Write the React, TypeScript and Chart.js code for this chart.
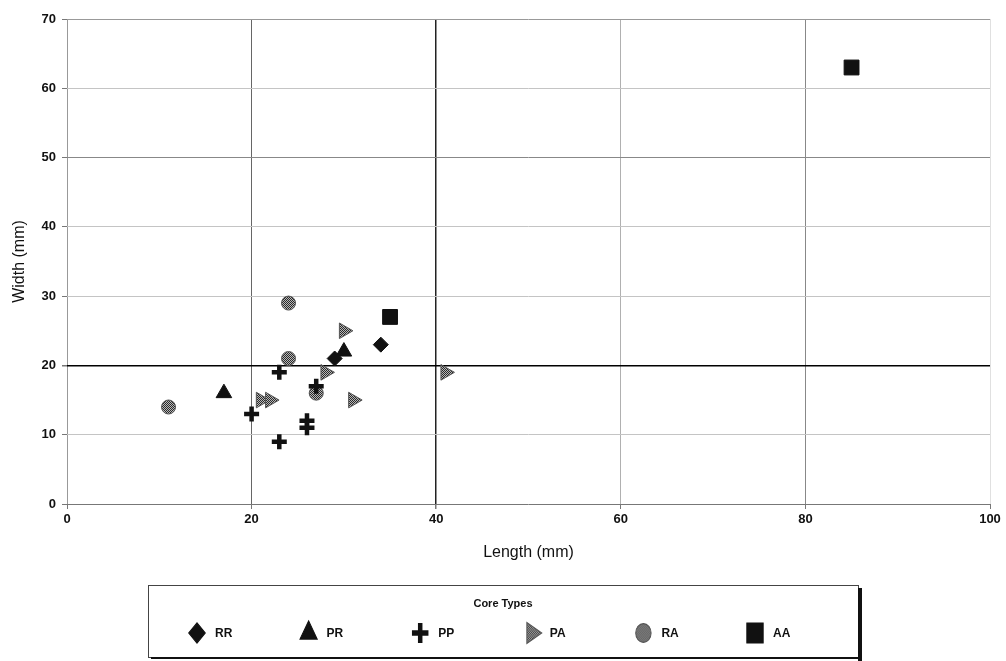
import React, { useEffect, useRef } from "react";
import { Chart, registerables } from "chart.js";
import { drawPoint } from "chart.js/helpers";

Chart.register(...registerables);

const seriesNames = ["RR", "PR", "PP", "PA", "RA", "AA"];
const rrPoints = [{ x: 29, y: 21 }, { x: 34, y: 23 }];
const prPoints = [{ x: 17, y: 16 }, { x: 30, y: 22 }];
const ppPoints = [
  { x: 23, y: 19 }, { x: 20, y: 13 }, { x: 23, y: 9 },
  { x: 26, y: 12 }, { x: 26, y: 11 }, { x: 27, y: 17 },
];
const paPoints = [
  { x: 30, y: 25 }, { x: 28, y: 19 }, { x: 21, y: 15 },
  { x: 22, y: 15 }, { x: 31, y: 15 }, { x: 41, y: 19 },
];
const raPoints = [{ x: 24, y: 29 }, { x: 24, y: 21 }, { x: 11, y: 14 }, { x: 27, y: 16 }];
const aaPoints = [{ x: 35, y: 27 }, { x: 85, y: 63 }];
const xTicks = [0, 20, 40, 60, 80, 100];
const yTicks = [0, 10, 20, 30, 40, 50, 60, 70];

const FONT = "'Liberation Sans', Arial, sans-serif";

function makePattern(): CanvasPattern | string {
  const c = document.createElement("canvas");
  c.width = 2;
  c.height = 2;
  const g = c.getContext("2d");
  if (!g) return "#666";
  g.fillStyle = "#b8b8b8";
  g.fillRect(0, 0, 2, 2);
  g.fillStyle = "#2a2a2a";
  g.fillRect(0, 0, 1, 1);
  g.fillRect(1, 1, 1, 1);
  const p = g.createPattern(c, "repeat");
  return p || "#666";
}

const legendPlugin = {
  id: "coreLegend",
  afterDraw(chart: any) {
    const ctx = chart.ctx as CanvasRenderingContext2D;
    const xs = chart.scales.x;
    const boxW = 710;
    const left = chart.width / 2 - boxW / 2;
    const top = xs.bottom + 21;
    const h = 72;
    ctx.save();
    ctx.fillStyle = "#fff";
    ctx.fillRect(left, top, boxW, h);
    ctx.strokeStyle = "#444";
    ctx.lineWidth = 1;
    ctx.strokeRect(left + 0.5, top + 0.5, boxW, h);
    ctx.fillStyle = "#111";
    ctx.fillRect(left + boxW, top + 3, 4, h + 1);
    ctx.fillRect(left + 3, top + h, boxW + 1, 2);
    ctx.font = `bold 11px ${FONT}`;
    ctx.textAlign = "center";
    ctx.textBaseline = "middle";
    ctx.fillStyle = "#111";
    ctx.fillText("Core Types", chart.width / 2, top + 19);
    const spacing = 111.6;
    const cy = top + 48;
    chart.data.datasets.forEach((ds: any, i: number) => {
      const sx = left + 49 + i * spacing;
      ctx.save();
      ctx.translate(sx, cy);
      ctx.scale(1, 1.22);
      ctx.fillStyle = ds.backgroundColor;
      ctx.strokeStyle = ds.borderColor;
      ctx.lineWidth = ds.borderWidth;
      drawPoint(ctx, {
        pointStyle: ds.pointStyle,
        radius: ds.pointRadius * 1.1,
        rotation: ds.rotation || 0,
        borderWidth: ds.borderWidth,
      } as any, 0, 0);
      ctx.restore();
      ctx.fillStyle = "#111";
      ctx.textAlign = "left";
      ctx.font = `bold 12px ${FONT}`;
      ctx.fillText(ds.label, sx + 18, cy + 1);
    });
    ctx.restore();
  },
};

const bgPlugin = {
  id: "whiteBg",
  beforeDraw(chart: any) {
    const ctx = chart.ctx;
    ctx.save();
    ctx.fillStyle = "#fff";
    ctx.fillRect(0, 0, chart.width, chart.height);
    ctx.restore();
  },
};

export default function App() {
  const ref = useRef<HTMLCanvasElement | null>(null);
  useEffect(() => {
    if (!ref.current) return;
    const pat = makePattern();
    const yGrid = (v: number) =>
      v === 20 ? "#000" : v === 50 ? "#888" : v === 0 ? "#777" : v === 70 ? "#999" : "#c4c4c4";
    const xGrid = (v: number) =>
      v === 40 ? "#222" : v === 20 ? "#666" : v === 80 ? "#888" : v === 0 ? "#999" : v === 100 ? "#e0e0e0" : "#b0b0b0";
    const chart = new Chart(ref.current, {
      type: "scatter",
      data: {
        datasets: [
          { label: seriesNames[0], data: rrPoints, pointStyle: "rectRot", pointRadius: 7.5, backgroundColor: "#111", borderColor: "#111", borderWidth: 1 },
          { label: seriesNames[1], data: prPoints, pointStyle: "triangle", pointRadius: 9, backgroundColor: "#111", borderColor: "#111", borderWidth: 1 },
          { label: seriesNames[2], data: ppPoints, pointStyle: "cross", pointRadius: 7.5, backgroundColor: "#111", borderColor: "#111", borderWidth: 4.5 },
          { label: seriesNames[3], data: paPoints, pointStyle: "triangle", rotation: 90, pointRadius: 9, backgroundColor: pat as any, borderColor: "#555", borderWidth: 1 },
          { label: seriesNames[4], data: raPoints, pointStyle: "circle", pointRadius: 7, backgroundColor: pat as any, borderColor: "#555", borderWidth: 1 },
          { label: seriesNames[5], data: aaPoints, pointStyle: "rect", pointRadius: 10.5, backgroundColor: "#111", borderColor: "#111", borderWidth: 1 },
        ] as any,
      },
      options: {
        animation: false,
        responsive: true,
        maintainAspectRatio: false,
        layout: { padding: { left: 0, top: 19, right: 16, bottom: 97 } },
        plugins: { legend: { display: false }, tooltip: { enabled: false } },
        scales: {
          x: {
            type: "linear",
            min: 0,
            max: 100,
            afterBuildTicks: (s: any) => { s.ticks = xTicks.map((v) => ({ value: v })); },
            afterFit: (s: any) => { s.height = 60; },
            border: { display: false },
            grid: {
              color: (c: any) => xGrid(c.tick.value),
              lineWidth: (c: any) => (c.tick.value === 40 ? 1.5 : 1),
              tickLength: 5,
              tickColor: "#777",
            },
            ticks: { color: "#111", padding: 3, font: { family: FONT, size: 13, weight: "bold" } },
            title: { display: true, text: "Length (mm)", color: "#111", padding: { top: 4, bottom: 2 }, font: { family: FONT, size: 16 } },
          },
          y: {
            type: "linear",
            min: 0,
            max: 70,
            afterBuildTicks: (s: any) => { s.ticks = yTicks.map((v) => ({ value: v })); },
            afterFit: (s: any) => { s.width = 67; },
            border: { display: false },
            grid: {
              color: (c: any) => yGrid(c.tick.value),
              lineWidth: (c: any) => (c.tick.value === 20 ? 1.5 : 1),
              tickLength: 5,
              tickColor: "#777",
            },
            ticks: { color: "#111", padding: 6, font: { family: FONT, size: 13, weight: "bold" } },
            title: { display: true, text: "Width (mm)", color: "#111", padding: { top: 10, bottom: 4 }, font: { family: FONT, size: 16 } },
          },
        },
      } as any,
      plugins: [bgPlugin, legendPlugin],
    });
    return () => chart.destroy();
  }, []);
  return (
    <div style={{ position: "absolute", left: 0, top: 0, width: 1006, height: 661, background: "#fff" }}>
      <canvas ref={ref} />
    </div>
  );
}
